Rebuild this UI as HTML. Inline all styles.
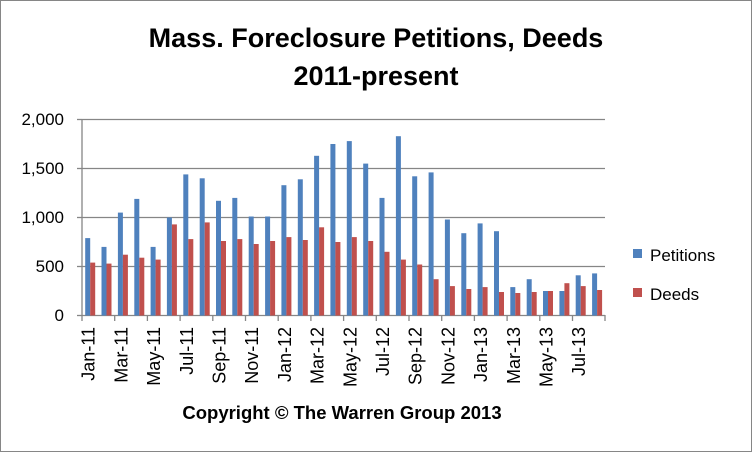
<!DOCTYPE html>
<html><head><style>body{margin:0;background:#fff}svg{display:block}</style></head><body>
<svg id="s" width="752" height="452" xmlns="http://www.w3.org/2000/svg" font-family="Liberation Sans, sans-serif">
<rect x="0.5" y="0.5" width="751" height="451" fill="#fff" stroke="#868686"/>
<text x="376" y="47" text-anchor="middle" font-size="27" font-weight="bold">Mass.  Foreclosure Petitions, Deeds</text>
<text x="376" y="85" text-anchor="middle" font-size="27" font-weight="bold">2011-present</text>
<g stroke="#868686" stroke-width="1.3">
<line x1="82" y1="119.5" x2="605" y2="119.5"/><line x1="82" y1="168.5" x2="605" y2="168.5"/>
<line x1="82" y1="217.5" x2="605" y2="217.5"/><line x1="82" y1="266.5" x2="605" y2="266.5"/>
<line x1="82" y1="315.5" x2="605" y2="315.5"/><line x1="82" y1="119" x2="82" y2="316"/>
<line x1="77" y1="119.5" x2="82" y2="119.5"/><line x1="77" y1="168.5" x2="82" y2="168.5"/><line x1="77" y1="217.5" x2="82" y2="217.5"/><line x1="77" y1="266.5" x2="82" y2="266.5"/><line x1="77" y1="315.5" x2="82" y2="315.5"/>
</g>
<g font-size="17" text-anchor="end">
<text x="64" y="125">2,000</text><text x="64" y="174">1,500</text><text x="64" y="223">1,000</text><text x="64" y="272">500</text><text x="64" y="321">0</text>
</g>
<g id="bars"></g>
<rect x="633" y="249" width="9" height="9" fill="#4f81bd"/>
<text x="650" y="261" font-size="17">Petitions</text>
<rect x="633" y="288" width="9" height="9" fill="#c0504d"/>
<text x="650" y="300" font-size="17">Deeds</text>
<text x="342" y="419" text-anchor="middle" font-size="18.5" font-weight="bold">Copyright © The Warren Group 2013</text>
</svg>
<script>
var P=[790,700,1050,1190,700,1000,1440,1400,1170,1200,1010,1010,1330,1390,1630,1750,1780,1550,1200,1830,1420,1460,980,840,940,860,290,370,250,250,410,430];
var D=[540,530,620,590,570,930,780,950,760,780,730,760,800,770,900,750,800,760,650,570,520,370,300,270,290,240,230,240,250,330,300,260];
var M=["Jan","Feb","Mar","Apr","May","Jun","Jul","Aug","Sep","Oct","Nov","Dec"];
var g=document.getElementById("bars"),h="",w=16.35;
for(var i=0;i<32;i++){var x=82+w*i;
var hp=P[i]*0.098,hd=D[i]*0.098;
h+='<rect x="'+(x+3.2).toFixed(1)+'" y="'+(315.5-hp).toFixed(1)+'" width="5" height="'+hp.toFixed(1)+'" fill="#4f81bd"/>';
h+='<rect x="'+(x+8.2).toFixed(1)+'" y="'+(315.5-hd).toFixed(1)+'" width="5" height="'+hd.toFixed(1)+'" fill="#c0504d"/>';
if(i%2==0){h+='<line x1="'+x.toFixed(1)+'" y1="315" x2="'+x.toFixed(1)+'" y2="321" stroke="#868686" stroke-width="1.3"/>';
var cx=x+w/2+4.5;h+='<text transform="translate('+cx.toFixed(1)+',327) rotate(-90)" text-anchor="end" font-size="18">'+M[i%12]+'-'+(11+Math.floor(i/12))+'</text>';}
}
h+='<line x1="605" y1="315" x2="605" y2="321" stroke="#868686" stroke-width="1.3"/>';
g.innerHTML=h;
</script>
</body></html>
